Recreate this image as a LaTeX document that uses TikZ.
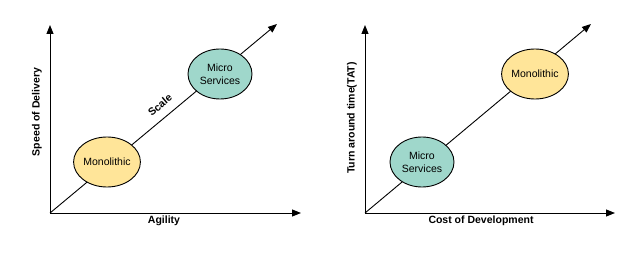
\documentclass[tikz,border=0pt]{standalone}
\usepackage{fontspec}
\setmainfont{Liberation Sans}
\usetikzlibrary{arrows.meta,shapes.geometric}
\definecolor{monoyel}{HTML}{FFE599}
\definecolor{microteal}{HTML}{9FD7CB}
\tikzset{
  axis/.style={line width=1pt, -{Triangle[length=9pt,width=7pt]}},
  diag/.style={line width=0.9pt, -{Triangle[length=9pt,width=7pt]}},
  blob/.style={ellipse, draw, line width=0.9pt, minimum width=64pt, minimum height=50pt, inner sep=0pt, align=center, font=\fontsize{10.5}{12.5}\selectfont},
  mono/.style={blob, fill=monoyel},
  micro/.style={blob, fill=microteal},
  lbl/.style={font=\fontsize{10.5}{12.5}\selectfont\bfseries}
}
\begin{document}
\begin{tikzpicture}[x=1pt,y=-1pt]
\useasboundingbox (0,0) rectangle (640,259);
% left panel
\coordinate (o1) at (50,213);
\coordinate (y1) at (50,25);
\coordinate (x1) at (301,213);
\coordinate (d1) at (277,24);
\draw[axis] (o1) -- (y1);
\draw[axis] (o1) -- (x1);
\draw[diag] (o1) -- (d1);
\node[mono] (m1) at (107,162) {Monolithic};
\node[micro] (s1) at (220,74) {Micro\\Services};
\node[lbl, rotate=40] (sc) at (160,105) {Scale};
\node[lbl] (ag) at (164,221) {Agility};
\node[lbl, rotate=90] (sd) at (37,112) {Speed of Delivery};
% right panel
\coordinate (o2) at (365,213);
\coordinate (y2) at (365,25);
\coordinate (x2) at (615,213);
\coordinate (d2) at (591,24);
\draw[axis] (o2) -- (y2);
\draw[axis] (o2) -- (x2);
\draw[diag] (o2) -- (d2);
\node[micro] (s2) at (422,162) {Micro\\Services};
\node[mono] (m2) at (535,74) {Monolithic};
\node[lbl] (cd) at (481,221) {Cost of Development};
\node[lbl, rotate=90] (ta) at (352,118) {Turn around time(TAT)};
\end{tikzpicture}
\end{document}
